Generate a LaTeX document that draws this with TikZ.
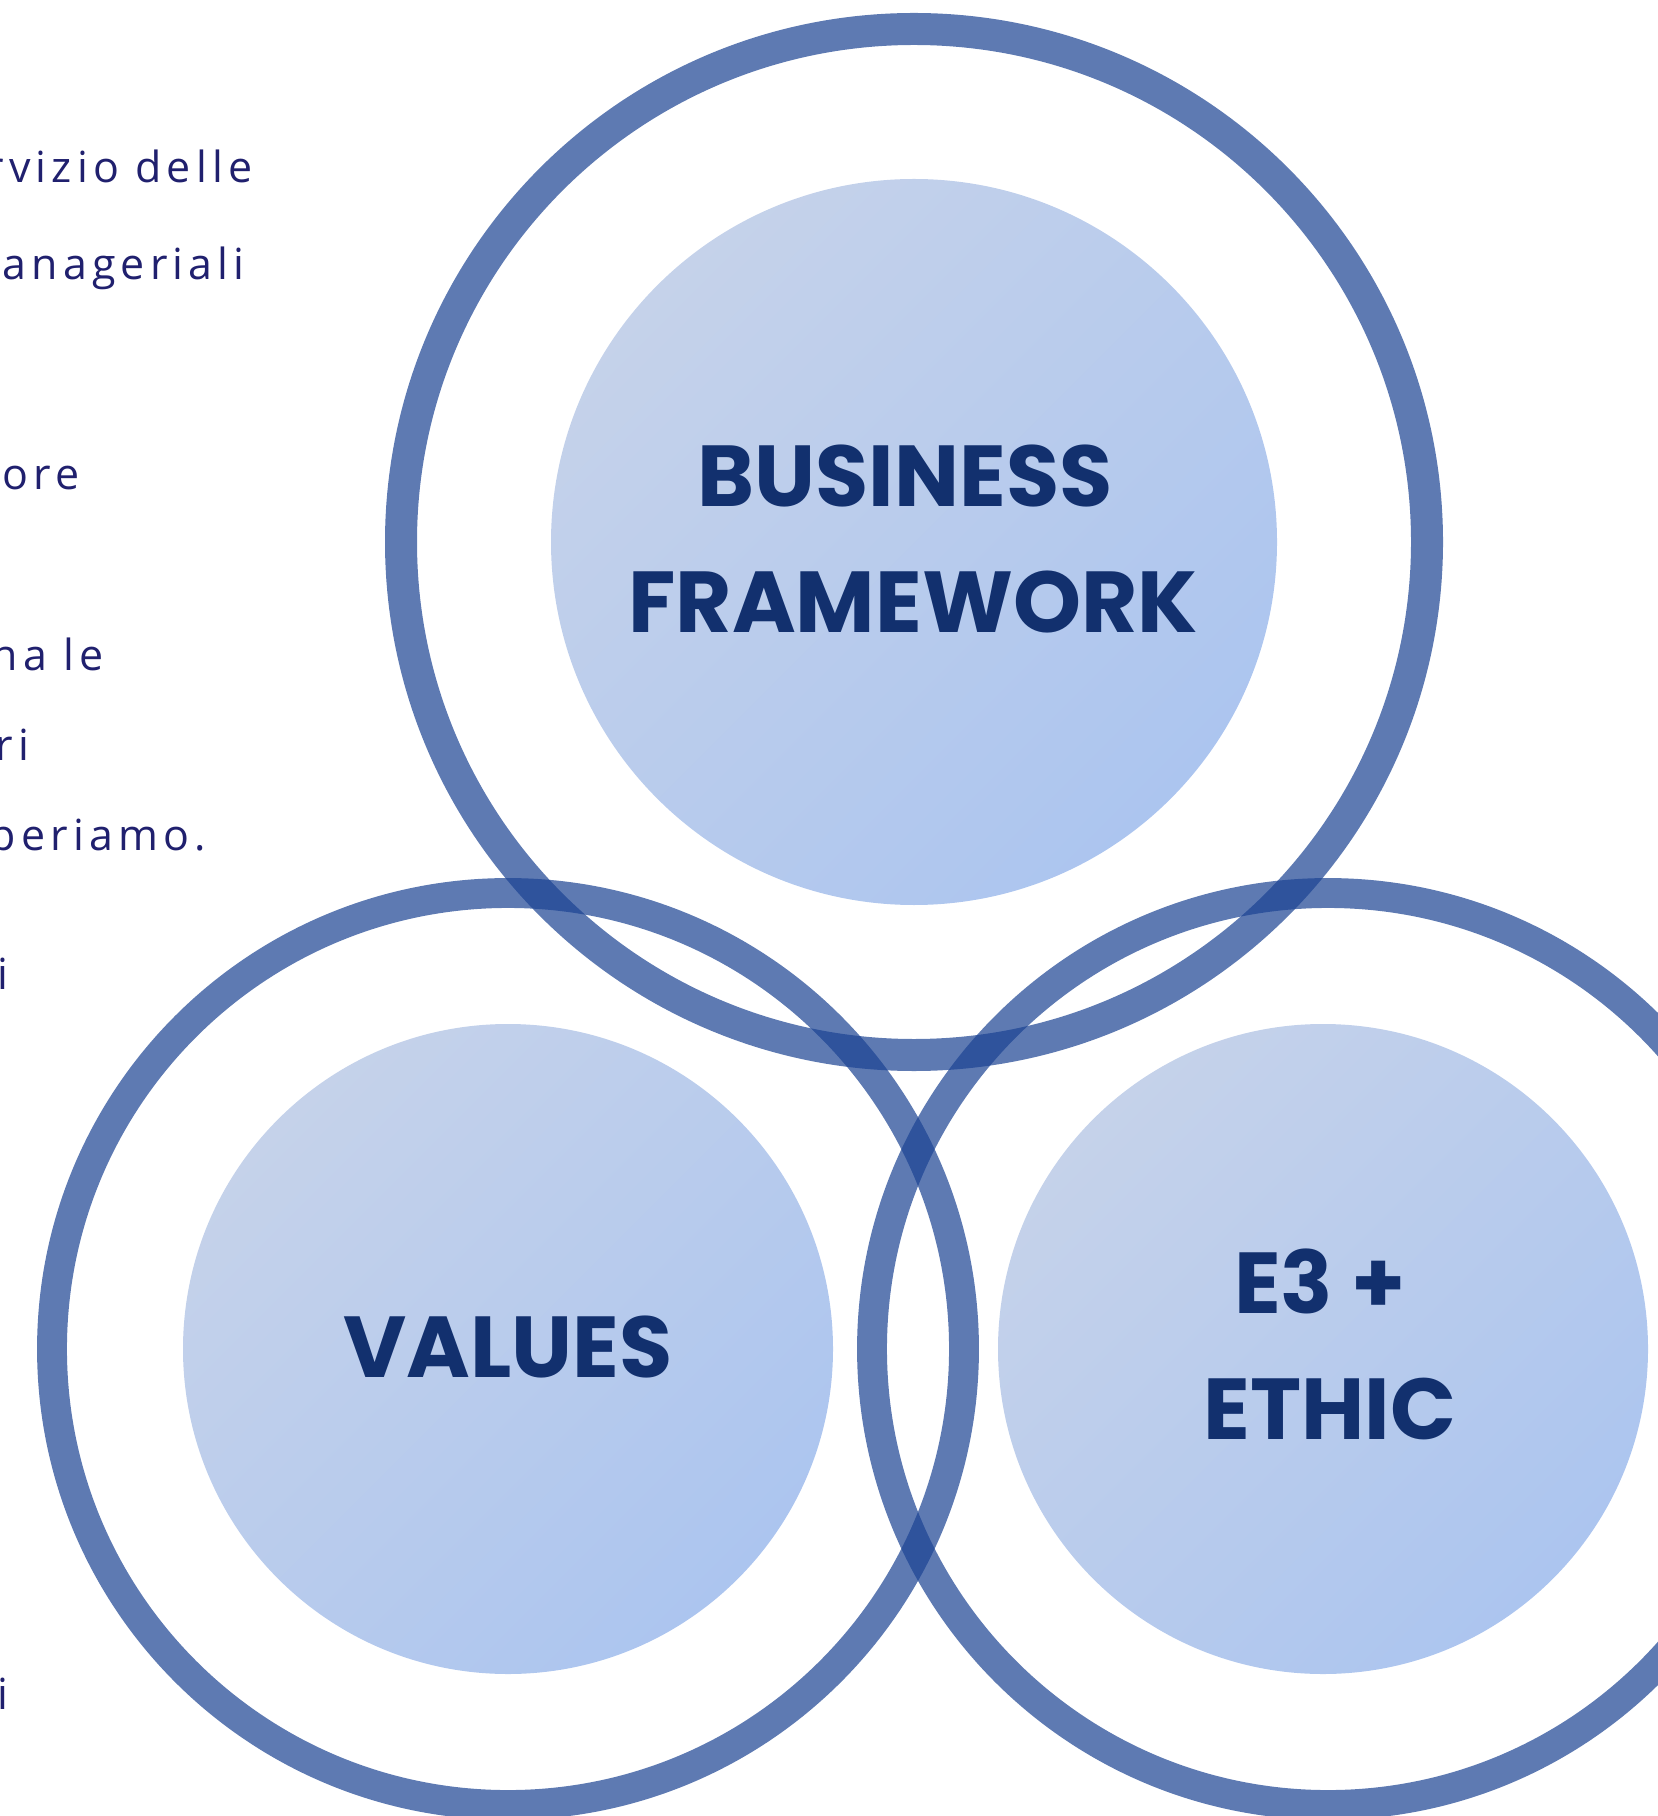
\documentclass[tikz,border=0pt]{standalone}
\usepackage{fontspec}
\setmainfont{Open Sans}
\newfontfamily\sidefont[LetterSpace=12]{Open Sans}
\newfontfamily\labelfont{Poppins}

\definecolor{ringblue}{RGB}{26,66,146}
\definecolor{disklight}{RGB}{197,210,234}
\definecolor{diskdark}{RGB}{172,197,239}
\definecolor{labelnavy}{RGB}{18,48,110}
\definecolor{sidenavy}{RGB}{32,32,110}

\begin{document}
\begin{tikzpicture}[x=0.01cm,y=-0.01cm,
    ring/.style={draw=ringblue,draw opacity=0.7},
    disk/.style={top color=disklight,bottom color=diskdark,shading angle=45},
    biglabel/.style={anchor=base,inner sep=0pt,text=labelnavy,
        font=\labelfont\bfseries\fontsize{24.6}{30}\selectfont},
    sidetext/.style={anchor=base west,inner sep=0pt,text=sidenavy,
        font=\sidefont\fontsize{12.2}{14}\selectfont}
]
\useasboundingbox (0,0) rectangle (1657,1816);

% inner disks
\shade[disk] (914,542) circle (363); % business
\shade[disk] (508,1349) circle (325); % values
\shade[disk] (1323,1349) circle (325); % e3

% outer rings
\draw[ring,line width=9.1pt] (914,542) circle (513);
\draw[ring,line width=8.5pt] (508,1349) circle (456);
\draw[ring,line width=8.5pt] (1328,1349) circle (456);

\node[biglabel] (bfa) at (905,507) {BUSINESS};
\node[biglabel] (bfb) at (913,633) {FRAMEWORK};
\node[biglabel] (val) at (508,1377) {VALUES};
\node[biglabel] (etha) at (1320,1313) {E3 +};
\node[biglabel] (ethb) at (1330,1439) {ETHIC};

% text cut by the left edge
\node[sidetext] (s1) at (-14,183) {rvizio delle};
\node[sidetext] (s2) at (2,280) {anageriali};
\node[sidetext] (s3) at (2,490) {ore};
\node[sidetext] (s4) at (-9,670) {na le};
\node[sidetext] (s5) at (-5,760) {ri};
\node[sidetext] (s6) at (-11,850) {periamo.};
\node[sidetext] (s7) at (-3,989) {i};
\node[sidetext] (s8) at (-3,1709) {i};

\end{tikzpicture}
\end{document}
